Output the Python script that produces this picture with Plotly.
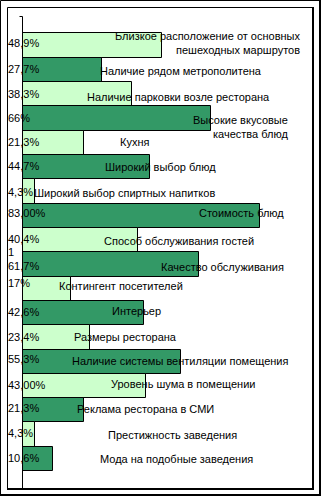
import plotly.graph_objects as go

# ---- data ----
categories = [
    "Близкое расположение от основных<br>пешеходных маршрутов",
    "Наличие рядом метрополитена",
    "Наличие парковки возле ресторана",
    "Высокие вкусовые<br>качества блюд",
    "Кухня",
    "Широкий выбор блюд",
    "Широкий выбор спиртных напитков",
    "Стоимость блюд",
    "Способ обслуживания гостей",
    "Качество обслуживания",
    "Контингент посетителей",
    "Интерьер",
    "Размеры ресторана",
    "Наличие системы вентиляции помещения",
    "Уровень шума в помещении",
    "Реклама ресторана в СМИ",
    "Престижность заведения",
    "Мода на подобные заведения",
]
values = [48.9, 27.7, 38.3, 66, 21.3, 44.7, 4.3, 83, 40.4, 61.7,
          17, 42.6, 23.4, 55.3, 43, 21.3, 4.3, 10.6]
value_labels = ["48,9%", "27,7%", "38,3%", "66%", "21,3%", "44,7%", "4,3%",
                "83,00%", "40,4%", "61,7%", "17%", "42,6%", "23,4%", "55,3%",
                "43,00%", "21,3%", "4,3%", "10,6%"]

# ---- layout / style (pixel placement of text boxes) ----
W, H = 321, 496
L, R, T, B = 23, 13, 16, 8
PW, PH = W - L - R, H - T - B
LIGHT, DARK = "#CCFFCC", "#339966"
FONT = "Liberation Sans, Arial, sans-serif"

def px(x):
    return (x - L) / PW

def py(y):
    return (H - B - y) / PH

# (anchor x px, center y px, xanchor) for each category text box
label_pos = [
    (302, 42.5, "right"), (99, 71, "left"), (86, 97, "left"),
    (289, 127, "right"), (119, 142, "left"), (104, 167, "left"),
    (33, 193, "left"), (198, 213, "left"), (103, 241, "left"),
    (160, 267, "left"), (58, 286, "left"), (111, 311, "left"),
    (73, 337, "left"), (71, 361, "left"), (110, 384, "left"),
    (76, 409, "left"), (107, 435, "left"), (99, 459, "left"),
]
value_y = [43, 69, 94, 118, 142, 166, 192, 213, 239, 265.5, 283, 312,
           337, 359, 385, 408, 433, 458]

idx = list(range(len(values)))
colors = [LIGHT if i % 2 == 0 else DARK for i in idx]

fig = go.Figure(go.Bar(
    x=values, y=idx, orientation="h",
    marker=dict(color=colors, line=dict(color="black", width=1)),
    hoverinfo="skip",
))

ann = []
for (lx, ly, xa), txt in zip(label_pos, categories):
    ann.append(dict(x=px(lx), y=py(ly), xref="paper", yref="paper",
                    text=txt, showarrow=False, xanchor=xa, yanchor="middle",
                    align="right", borderpad=0,
                    font=dict(family=FONT, size=11, color="black")))
for vy, txt in zip(value_y, value_labels):
    ann.append(dict(x=px(7), y=py(vy), xref="paper", yref="paper",
                    text=txt, showarrow=False, xanchor="left", yanchor="middle",
                    borderpad=0,
                    font=dict(family=FONT, size=11, color="black")))
ann.append(dict(x=px(7), y=py(252), xref="paper", yref="paper", text="1",
                showarrow=False, xanchor="left", yanchor="middle", borderpad=0,
                font=dict(family=FONT, size=11, color="black")))

def line(x0, y0, x1, y1, w=1):
    return dict(type="line", xref="paper", yref="paper",
                x0=px(x0), y0=py(y0), x1=px(x1), y1=py(y1),
                line=dict(color="black", width=w), layer="above")

shapes = [
    # outer frame
    line(0.5, 0.5, 320, 0.5), line(0.5, 0.5, 0.5, 495),
    line(0, 495, 321, 495, 2), line(320, 0, 320, 496, 2),
    # inner frame
    line(7.5, 7.5, 313, 7.5), line(7.5, 7.5, 7.5, 489),
    line(7, 489, 314, 489, 2), line(313, 7, 313, 490, 2),
    # value axis line and top tick
    line(22.5, 16.5, 22.5, 488), line(19.5, 16.5, 22.5, 16.5),
]

fig.update_layout(
    width=W, height=H,
    margin=dict(l=L, r=R, t=T, b=B, pad=0),
    paper_bgcolor="white", plot_bgcolor="white",
    bargap=0.0, showlegend=False,
    xaxis=dict(range=[0, 100], visible=False, fixedrange=True),
    yaxis=dict(range=[18.195, -1.213], visible=False, fixedrange=True),
    annotations=ann, shapes=shapes,
)

fig.write_html("out.html", config={"displayModeBar": False})
